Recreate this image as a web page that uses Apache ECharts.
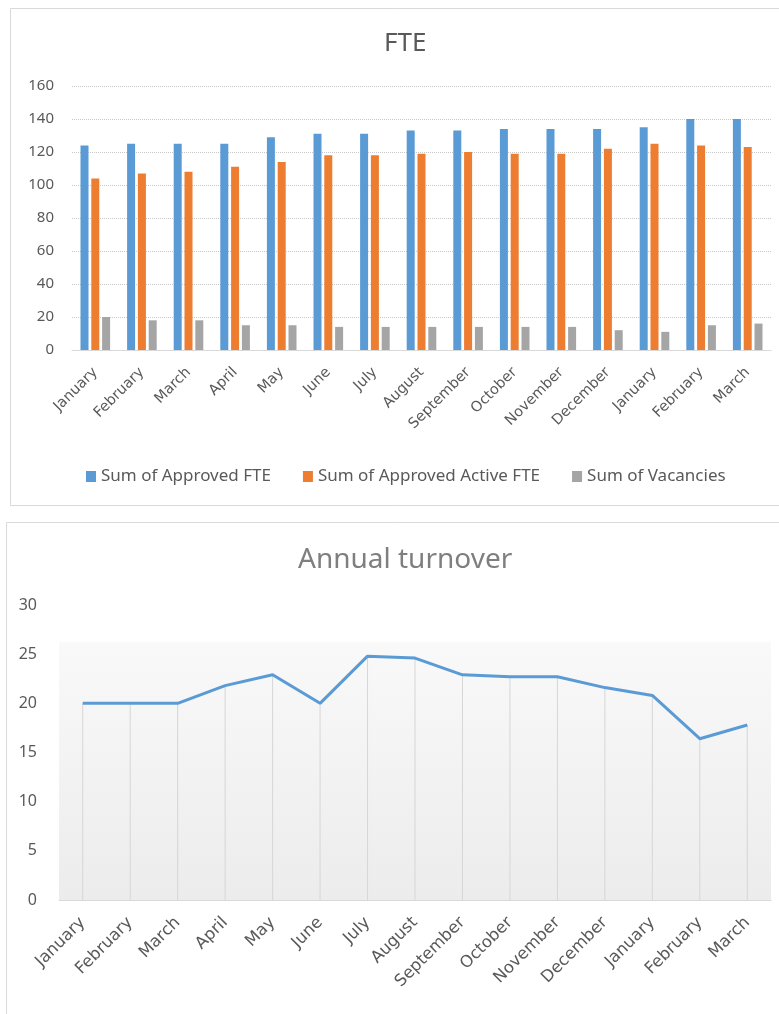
<!DOCTYPE html>
<html>
<head>
<meta charset="utf-8">
<script src="https://cdn.jsdelivr.net/npm/echarts@6/dist/echarts.min.js"></script>
<style>
html,body{margin:0;padding:0;background:#fff;}
#c{width:779px;height:1014px;}
</style>
</head>
<body>
<div id="c"></div>
<script>
const months = ["January","February","March","April","May","June","July","August","September","October","November","December","January","February","March"];
const approvedFTE = [124,125,125,125,129,131,131,133,133,134,134,134,135,140,140];
const activeFTE = [104,107,108,111,114,118,118,119,120,119,119,122,125,124,123];
const vacancies = [20,18,18,15,15,14,14,14,14,14,14,12,11,15,16];
const turnover = [20,20,20,21.8,22.9,20,24.8,24.6,22.9,22.7,22.7,21.6,20.8,16.4,17.8];
const fteTicks = [0,20,40,60,80,100,120,140,160];
const turnoverTicks = [0,5,10,15,20,25,30];

const FONT = "'Noto Sans', 'Open Sans', sans-serif";
const WIDE = "'DejaVu Sans', 'Noto Sans', sans-serif";
const chart = echarts.init(document.getElementById('c'), null, {renderer:'canvas'});

const option = {
  backgroundColor: '#ffffff',
  animation: false,
  textStyle: {fontFamily: FONT},
  title: [
    {text: 'FTE', left: 379, top: 26, textStyle: {fontFamily: FONT, fontSize: 26, fontWeight: 'normal', color: '#595959'}},
    {text: 'Annual turnover', left: 293, top: 541, textStyle: {fontFamily: FONT, fontSize: 28, fontWeight: 'normal', color: '#7f7f7f'}}
  ],
  legend: {
    data: ['Sum of Approved FTE','Sum of Approved Active FTE','Sum of Vacancies'],
    left: 81, top: 463,
    itemWidth: 10, itemHeight: 11, itemGap: 32,
    icon: 'rect',
    textStyle: {fontFamily: FONT, fontSize: 17, color: '#595959'}
  },
  graphic: [
    {type:'rect', shape:{x:10.5, y:8.5, width:800, height:497}, style:{fill:'none', stroke:'#d9d9d9', lineWidth:1}, silent:true},
    {type:'rect', shape:{x:6.5, y:522.5, width:800, height:520}, style:{fill:'none', stroke:'#d9d9d9', lineWidth:1}, silent:true}
  ],
  grid: [
    {left: 72, right: 8, top: 86, height: 264, containLabel: false},
    {left: 59, right: 8, top: 605, height: 295, containLabel: false, show: true, borderWidth: 0,
     backgroundColor: new echarts.graphic.LinearGradient(0,0,0,1,[
       {offset:0, color:'#ffffff'},
       {offset:0.12, color:'#ffffff'},
       {offset:0.13, color:'#f9f9f9'},
       {offset:1, color:'#ececec'}
     ])}
  ],
  xAxis: [
    {type:'category', gridIndex:0, data: months, boundaryGap:true,
     axisLine:{show:true, lineStyle:{color:'#d9d9d9', width:1}},
     axisTick:{show:false},
     axisLabel:{rotate:45, margin:20, interval:0, fontFamily:WIDE, fontSize:14.5, color:'#595959'}},
    {type:'category', gridIndex:1, data: months, boundaryGap:true,
     axisLine:{show:true, lineStyle:{color:'#d9d9d9', width:1}},
     axisTick:{show:false},
     axisLabel:{rotate:45, margin:20, interval:0, fontFamily:WIDE, fontSize:16.5, color:'#595959'}}
  ],
  yAxis: [
    {type:'value', gridIndex:0, min: fteTicks[0], max: fteTicks[fteTicks.length-1], interval: fteTicks[1]-fteTicks[0],
     axisLine:{show:false}, axisTick:{show:false},
     axisLabel:{margin:18, fontFamily:FONT, fontSize:15, color:'#595959'},
     splitLine:{show:true, lineStyle:{color:'#c8c8c8', type:'dotted', width:1}}},
    {type:'value', gridIndex:1, min: turnoverTicks[0], max: turnoverTicks[turnoverTicks.length-1], interval: turnoverTicks[1]-turnoverTicks[0],
     axisLine:{show:false}, axisTick:{show:false},
     axisLabel:{margin:22, fontFamily:FONT, fontSize:16, color:'#595959'},
     splitLine:{show:false}}
  ],
  series: [
    {name:'Sum of Approved FTE', type:'bar', xAxisIndex:0, yAxisIndex:0, data: approvedFTE, barWidth:8, barGap:'35%', itemStyle:{color:'#5b9bd5'}},
    {name:'Sum of Approved Active FTE', type:'bar', xAxisIndex:0, yAxisIndex:0, data: activeFTE, barWidth:8, barGap:'35%', itemStyle:{color:'#ed7d31'}},
    {name:'Sum of Vacancies', type:'bar', xAxisIndex:0, yAxisIndex:0, data: vacancies, barWidth:8, barGap:'35%', itemStyle:{color:'#a5a5a5'}},
    {name:'drop', type:'bar', xAxisIndex:1, yAxisIndex:1, data: turnover, barWidth:1, silent:true, itemStyle:{color:'#d6d6d6'}, z:1},
    {name:'Annual turnover', type:'line', xAxisIndex:1, yAxisIndex:1, data: turnover, symbol:'none', smooth:false,
     lineStyle:{color:'#5b9bd5', width:3}, z:3}
  ]
};
chart.setOption(option);
</script>
</body>
</html>
